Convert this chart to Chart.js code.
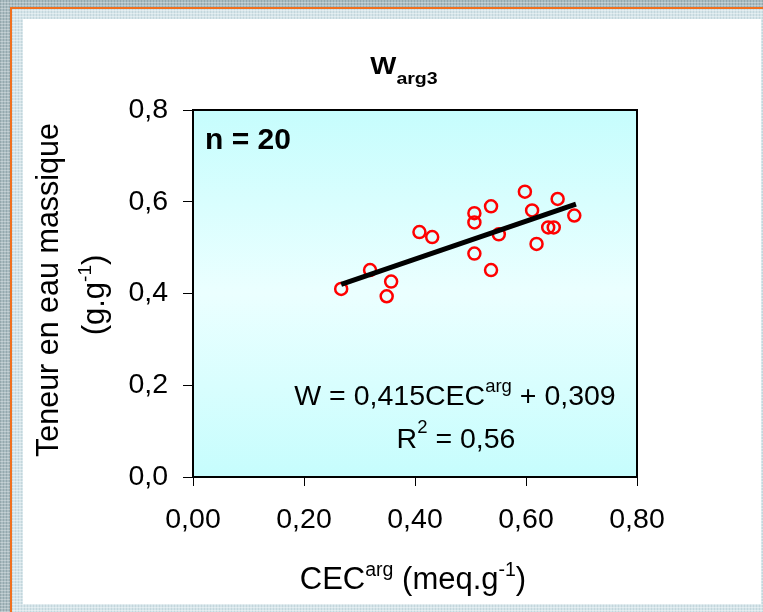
<!DOCTYPE html>
<html><head><meta charset="utf-8">
<script src="https://cdn.jsdelivr.net/npm/chart.js@4/dist/chart.umd.min.js"></script>
<style>
html,body{margin:0;padding:0;width:763px;height:612px;overflow:hidden;}
body{position:relative;background-color:#aabcc1;
 background-image:repeating-linear-gradient(0deg,rgba(255,255,255,.30) 0 1px,transparent 1px 3px),repeating-linear-gradient(90deg,rgba(70,95,100,.22) 0 1px,transparent 1px 3px);}
#frame{position:absolute;left:10px;top:7px;width:753px;height:605px;border-left:2px solid #f0701e;border-top:2px solid #f0701e;
 background-color:#d4e4e9;
 background-image:repeating-linear-gradient(0deg,rgba(255,255,255,.4) 0 1px,transparent 1px 3px),repeating-linear-gradient(90deg,rgba(120,150,160,.18) 0 1px,transparent 1px 3px);}
#panel{position:absolute;left:23px;top:19px;width:738px;height:585px;background:#fff;}
canvas{position:absolute;left:0;top:0;}
</style></head>
<body>
<div id="frame"></div>
<div id="panel"></div>
<canvas id="c" width="763" height="612"></canvas>
<script>
// ---- data ----
const cecArg    = [0.267, 0.319, 0.349, 0.357, 0.408, 0.431, 0.507, 0.507, 0.507, 0.537, 0.537, 0.551, 0.598, 0.611, 0.619, 0.640, 0.650, 0.657, 0.687];
const teneurEau = [0.410, 0.451, 0.394, 0.426, 0.534, 0.523, 0.575, 0.555, 0.487, 0.590, 0.451, 0.529, 0.622, 0.581, 0.508, 0.544, 0.544, 0.606, 0.570];
const trendX = [0.267, 0.690];
const trendY = [0.420, 0.595];
const xTicks = [0, 0.2, 0.4, 0.6, 0.8];
const yTicks = [0, 0.2, 0.4, 0.6, 0.8];
const titleMain = 'W', titleSub = 'arg3';
const nLabel = 'n = 20';
const eqA = 'W = 0,415CEC', eqSup = 'arg', eqB = ' + 0,309';
const r2A = 'R', r2Sup = '2', r2B = ' = 0,56';
const yTitle1 = 'Teneur en eau massique';
const yTitle2 = ['(g.g', '-1', ')'];
const xTitle = ['CEC', 'arg', ' (meq.g', '-1', ')'];

const F = "'Liberation Sans', Arial, Helvetica, sans-serif";
Chart.defaults.font.family = F;

function rich(ctx, parts, x, y, align) {
  let w = 0;
  parts.forEach(p => { ctx.font = p.font; w += ctx.measureText(p.t).width; });
  let cx = align === 'center' ? x - w / 2 : x;
  ctx.textAlign = 'left';
  ctx.textBaseline = 'alphabetic';
  parts.forEach(p => { ctx.font = p.font; ctx.fillText(p.t, cx, y - (p.rise || 0)); cx += ctx.measureText(p.t).width; });
}

const decor = {
  id: 'decor',
  beforeDraw(chart) {
    const {ctx, chartArea: a} = chart;
    const g = ctx.createLinearGradient(0, a.top, 0, a.bottom);
    g.addColorStop(0, '#c6fdfd');
    g.addColorStop(0.5, '#ebffff');
    g.addColorStop(1, '#c6fdfd');
    ctx.save();
    ctx.fillStyle = g;
    ctx.fillRect(a.left, a.top, a.right - a.left, a.bottom - a.top);
    ctx.restore();
  },
  afterDatasetsDraw(chart) {
    const {ctx, chartArea: a} = chart;
    ctx.save();
    ctx.strokeStyle = '#000';
    ctx.lineWidth = 2;
    ctx.strokeRect(a.left, a.top, a.right - a.left, a.bottom - a.top);
    ctx.restore();
  },
  afterDraw(chart) {
    const {ctx, chartArea: a} = chart;
    ctx.save();
    ctx.fillStyle = '#000';
    // title (stretched horizontally like the reference)
    ctx.save();
    ctx.translate(404, 0);
    ctx.scale(1.15, 1);
    rich(ctx, [{t: titleMain, font: 'bold 24px ' + F}, {t: titleSub, font: 'bold 17px ' + F, rise: -10}], 0, 74, 'center');
    ctx.restore();
    // n = 20
    rich(ctx, [{t: nLabel, font: 'bold 30px ' + F}], a.left + 12, a.top + 39, 'left');
    // equation
    rich(ctx, [{t: eqA, font: '28.5px ' + F}, {t: eqSup, font: '18.5px ' + F, rise: 13}, {t: eqB, font: '28.5px ' + F}], 455, 405, 'center');
    rich(ctx, [{t: r2A, font: '28.5px ' + F}, {t: r2Sup, font: '18.5px ' + F, rise: 15}, {t: r2B, font: '28.5px ' + F}], 456, 448, 'center');
    // y title
    ctx.save();
    ctx.translate(58, 290);
    ctx.rotate(-Math.PI / 2);
    rich(ctx, [{t: yTitle1, font: '30.5px ' + F}], 0, 0, 'center');
    ctx.restore();
    ctx.save();
    ctx.translate(104, 295);
    ctx.rotate(-Math.PI / 2);
    rich(ctx, [{t: yTitle2[0], font: '31px ' + F}, {t: yTitle2[1], font: '19px ' + F, rise: 13}, {t: yTitle2[2], font: '31px ' + F}], 0, 0, 'center');
    ctx.restore();
    // x title
    rich(ctx, [{t: xTitle[0], font: '31px ' + F}, {t: xTitle[1], font: '19.5px ' + F, rise: 13},
               {t: xTitle[2], font: '31px ' + F}, {t: xTitle[3], font: '19.5px ' + F, rise: 13},
               {t: xTitle[4], font: '31px ' + F}], 413, 589, 'center');
    ctx.restore();
  }
};

const ctx = document.getElementById('c').getContext('2d');
new Chart(ctx, {
  type: 'scatter',
  data: {
    datasets: [
      {
        type: 'line', label: 'Régression',
        data: trendX.map((x, i) => ({x, y: trendY[i]})),
        borderColor: '#000', borderWidth: 5, pointRadius: 0, fill: false, order: 0, borderCapStyle: 'butt'
      },
      {
        type: 'scatter', label: 'W arg3',
        data: cecArg.map((x, i) => ({x, y: teneurEau[i]})),
        pointStyle: 'circle', pointRadius: 6, pointHoverRadius: 6,
        borderColor: '#ff0000', borderWidth: 2.5, backgroundColor: 'rgba(0,0,0,0)', order: 1
      }
    ]
  },
  options: {
    responsive: false, animation: false, devicePixelRatio: 1,
    layout: {padding: {left: 20, top: 110, right: 126, bottom: 0}},
    plugins: {legend: {display: false}, tooltip: {enabled: false}, title: {display: false}},
    scales: {
      x: {
        type: 'linear', position: 'bottom', min: 0, max: 0.8,
        afterBuildTicks: s => { s.ticks = xTicks.map(v => ({value: v})); },
        afterFit: s => { s.height = 135; },
        grid: {display: true, drawOnChartArea: false, drawTicks: true, tickLength: 9, tickColor: '#000', tickWidth: 1},
        border: {display: false},
        ticks: {color: '#000', font: {size: 28.5}, padding: 17, maxRotation: 0, autoSkip: false,
                callback: v => Number(v).toFixed(2).replace('.', ',')}
      },
      y: {
        type: 'linear', position: 'left', min: 0, max: 0.8,
        afterBuildTicks: s => { s.ticks = yTicks.map(v => ({value: v})); },
        afterFit: s => { s.width = 173; },
        grid: {display: true, drawOnChartArea: false, drawTicks: true, tickLength: 10, tickColor: '#000', tickWidth: 1},
        border: {display: false},
        ticks: {color: '#000', font: {size: 28.5}, padding: 15, autoSkip: false,
                callback: v => Number(v).toFixed(1).replace('.', ',')}
      }
    }
  },
  plugins: [decor]
});
</script>
</body></html>
